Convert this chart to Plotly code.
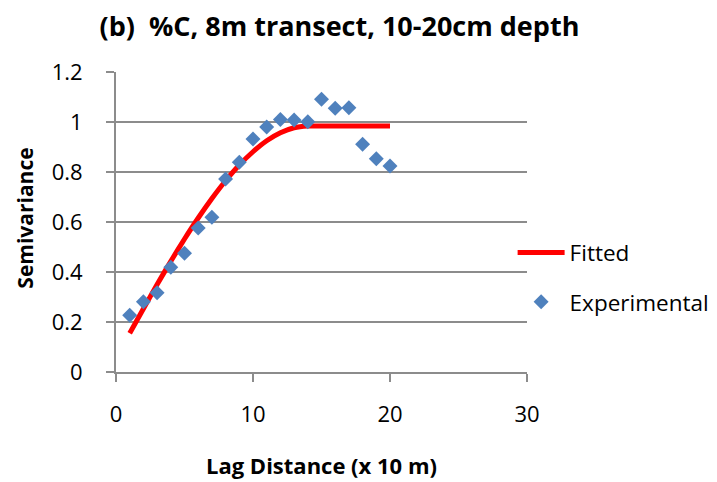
import plotly.graph_objects as go

# Lag distances (x 10 m)
lag = list(range(1, 21))

# Experimental semivariance at each lag
experimental = [0.227, 0.281, 0.317, 0.419, 0.475, 0.576, 0.619, 0.772, 0.839, 0.932,
                0.980, 1.010, 1.008, 1.001, 1.091, 1.055, 1.057, 0.911, 0.853, 0.824]

# Fitted model semivariance at each lag
fitted = [0.155, 0.253, 0.350, 0.443, 0.532, 0.616, 0.694, 0.765, 0.828, 0.881,
          0.925, 0.957, 0.977, 0.984, 0.984, 0.984, 0.984, 0.984, 0.984, 0.984]

x_ticks = [0, 10, 20, 30]
y_ticks = [0, 0.2, 0.4, 0.6, 0.8, 1.0, 1.2]
y_tick_text = ["0", "0.2", "0.4", "0.6", "0.8", "1", "1.2"]

FONT = "'Open Sans', Lato, sans-serif"
GRID = "#8c8c8c"

fig = go.Figure()

fig.add_trace(go.Scatter(
    x=lag, y=fitted, mode="lines", name="Fitted",
    line=dict(color="#ff0000", width=5, shape="spline", smoothing=0.6),
    legend="legend",
))

fig.add_trace(go.Scatter(
    x=lag, y=experimental, mode="markers", name="Experimental",
    marker=dict(symbol="diamond", size=11.5, color="#4f81bd", line=dict(width=0)),
    legend="legend2",
))

legend_common = dict(
    xref="paper", yref="paper", xanchor="left", yanchor="middle",
    bgcolor="rgba(0,0,0,0)", borderwidth=0, itemwidth=47,
    font=dict(family=FONT, size=22.5, color="#000000"),
)

fig.update_layout(
    width=717, height=482,
    margin=dict(l=116, r=190, t=72, b=110, autoexpand=False),
    paper_bgcolor="white", plot_bgcolor="white",
    showlegend=True,
    legend=dict(x=0.965, y=0.397, **legend_common),
    legend2=dict(x=0.965, y=0.233, **legend_common),
    title=dict(
        text="<b>(b)  %C, 8m transect, 10-20cm depth</b>",
        x=0.4735, xref="container", xanchor="center",
        y=0.944, yref="container", yanchor="middle",
        font=dict(family=FONT, size=27, color="#000000"),
    ),
    xaxis=dict(
        range=[0, 30], tickvals=x_ticks, showgrid=False, zeroline=False,
        showline=True, linecolor=GRID, linewidth=2,
        ticks="outside", ticklen=8, tickwidth=2, tickcolor=GRID,
        tickfont=dict(family=FONT, size=22, color="#000000"),
        ticklabelstandoff=14,
    ),
    yaxis=dict(
        range=[0, 1.2], tickvals=y_ticks, ticktext=y_tick_text,
        showgrid=True, gridcolor=GRID, gridwidth=2, zeroline=False,
        showline=True, linecolor=GRID, linewidth=2,
        ticks="outside", ticklen=8, tickwidth=2, tickcolor=GRID,
        tickfont=dict(family=FONT, size=22, color="#000000"),
        ticklabelstandoff=19,
    ),
    annotations=[
        dict(text="<b>Lag Distance (x 10 m)</b>", xref="paper", yref="paper",
             x=0.5, y=-0.31, xanchor="center", yanchor="middle", showarrow=False,
             font=dict(family=FONT, size=22, color="#000000")),
        dict(text="<b>Semivariance</b>", xref="paper", yref="paper",
             x=-0.22, y=0.513, xanchor="center", yanchor="middle", showarrow=False,
             textangle=-90, font=dict(family=FONT, size=21, color="#000000")),
    ],
)

fig.write_html("out.html")
